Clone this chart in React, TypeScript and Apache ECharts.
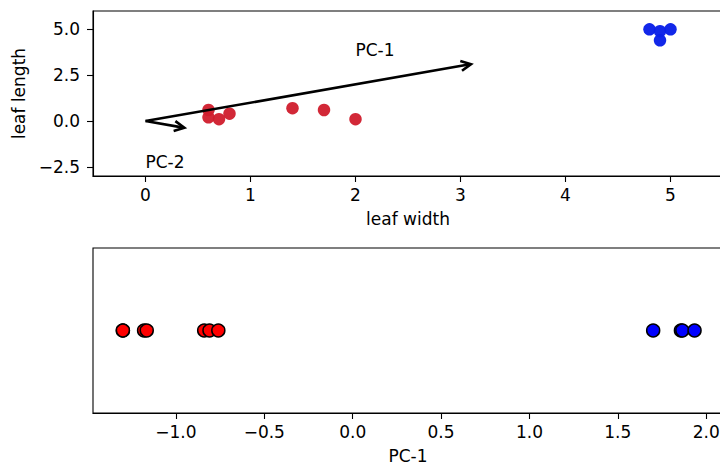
import React, { useEffect, useRef } from "react";
import * as echarts from "echarts";

// ---- data ----
const redWidth = [0.6, 0.6, 0.7, 0.8, 1.4, 1.7, 2.0];
const redLength = [0.6, 0.2, 0.1, 0.4, 0.7, 0.6, 0.1];
const blueWidth = [4.8, 4.9, 5.0, 4.9];
const blueLength = [5.0, 4.9, 5.0, 4.4];

const pc1Red = [-1.3, -1.3, -1.18, -1.165, -0.84, -0.81, -0.76];
const pc1Blue = [1.7, 1.857, 1.865, 1.934];

// arrows: [x0, y0, x1, y1]
const arrows = [
  [0, 0, 3.1, 3.1],
  [0, 0, 0.37, -0.37],
];
const arrowNames = ["PC-1", "PC-2"];
const arrowLabelPos = [
  [2.0, 3.87],
  [0.0, -2.22],
];

const topXTicks = [0, 1, 2, 3, 4, 5];
const topYTicks = [-2.5, 0, 2.5, 5];
const bottomXTicks = [-1.0, -0.5, 0.0, 0.5, 1.0, 1.5, 2.0];

const FONT = "DejaVu Sans";
const FS = 17;

const fmt = (v: number, d: number) => {
  const s = Math.abs(v).toFixed(d);
  return (v < 0 ? "\u2212" : "") + s;
};

export default function App() {
  const ref = useRef<HTMLDivElement>(null);
  useEffect(() => {
    if (!ref.current) return;
    const chart = echarts.init(ref.current, undefined, { renderer: "svg" });

    const axisCommon = {
      axisLine: { show: true, onZero: false, lineStyle: { color: "#000", width: 1.1 } },
      axisTick: { show: true, inside: false, length: 6, lineStyle: { color: "#000", width: 1.1 } },
      splitLine: { show: false },
      nameTextStyle: { color: "#000", fontFamily: FONT, fontSize: FS },
    };

    const option: any = {
      animation: false,
      backgroundColor: "#fff",
      grid: [
        { left: 93, top: 11, right: 0, height: 165, show: true, borderColor: "#000", borderWidth: 1.1, containLabel: false },
        { left: 93, top: 248, right: 0, height: 165, show: true, borderColor: "#000", borderWidth: 1.1, containLabel: false },
      ],
      xAxis: [
        {
          ...axisCommon,
          type: "value",
          gridIndex: 0,
          min: -0.5,
          max: 5.5,
          name: "leaf width",
          nameLocation: "middle",
          nameGap: 34,
          axisTick: { ...axisCommon.axisTick, customValues: topXTicks },
          axisLabel: {
            customValues: topXTicks,
            formatter: (v: number) => fmt(v, 0),
            color: "#000",
            fontFamily: FONT,
            fontSize: FS,
            margin: 10,
          },
        },
        {
          ...axisCommon,
          type: "value",
          gridIndex: 1,
          min: -1.469,
          max: 2.095,
          name: "PC-1",
          nameLocation: "middle",
          nameGap: 34,
          axisTick: { ...axisCommon.axisTick, customValues: bottomXTicks },
          axisLabel: {
            customValues: bottomXTicks,
            formatter: (v: number) => fmt(v, 1),
            color: "#000",
            fontFamily: FONT,
            fontSize: FS,
            margin: 10,
          },
        },
      ],
      yAxis: [
        {
          ...axisCommon,
          type: "value",
          gridIndex: 0,
          min: -3,
          max: 6,
          name: "leaf length",
          nameLocation: "middle",
          nameGap: 58,
          axisTick: { ...axisCommon.axisTick, customValues: topYTicks },
          axisLabel: {
            customValues: topYTicks,
            formatter: (v: number) => fmt(v, 1),
            color: "#000",
            fontFamily: FONT,
            fontSize: FS,
            margin: 13,
          },
        },
        {
          type: "value",
          gridIndex: 1,
          min: -1,
          max: 1,
          show: false,
          splitLine: { show: false },
        },
      ],
      series: [
        {
          type: "scatter",
          xAxisIndex: 0,
          yAxisIndex: 0,
          symbolSize: 12.5,
          itemStyle: { color: "#d01c2c", opacity: 0.95 },
          data: redWidth.map((w, i) => [w, redLength[i]]),
          z: 2,
        },
        {
          type: "scatter",
          xAxisIndex: 0,
          yAxisIndex: 0,
          symbolSize: 12.5,
          itemStyle: { color: "#0a20e8", opacity: 0.97 },
          data: blueWidth.map((w, i) => [w, blueLength[i]]),
          z: 2,
        },
        {
          type: "custom",
          xAxisIndex: 0,
          yAxisIndex: 0,
          z: 3,
          clip: false,
          data: arrows,
          encode: { x: [0, 2], y: [1, 3] },
          renderItem: (params: any, api: any) => {
            const p0 = api.coord([api.value(0), api.value(1)]);
            const p1 = api.coord([api.value(2), api.value(3)]);
            const dx = p1[0] - p0[0];
            const dy = p1[1] - p0[1];
            const len = Math.sqrt(dx * dx + dy * dy);
            const ux = dx / len;
            const uy = dy / len;
            const hl = 10;
            const hw = 5;
            const bx = p1[0] - ux * hl;
            const by = p1[1] - uy * hl;
            const a = [bx - uy * hw, by + ux * hw];
            const b = [bx + uy * hw, by - ux * hw];
            const lbl = arrowLabelPos[params.dataIndex];
            const lp = api.coord(lbl);
            return {
              type: "group",
              children: [
                {
                  type: "line",
                  shape: { x1: p0[0], y1: p0[1], x2: p1[0] - ux * 1, y2: p1[1] - uy * 1 },
                  style: { stroke: "#000", lineWidth: 2.6, lineCap: "butt" },
                },
                {
                  type: "polyline",
                  shape: { points: [a, p1, b] },
                  style: { stroke: "#000", fill: null, lineWidth: 2.6, lineJoin: "miter" },
                },
                {
                  type: "text",
                  x: lp[0],
                  y: lp[1],
                  style: {
                    text: arrowNames[params.dataIndex],
                    fill: "#000",
                    font: `${FS}px "${FONT}"`,
                    textAlign: "left",
                    textVerticalAlign: "middle",
                  },
                },
              ],
            };
          },
        },
        {
          type: "scatter",
          xAxisIndex: 1,
          yAxisIndex: 1,
          symbolSize: 13,
          itemStyle: { color: "#ff0000", borderColor: "#000", borderWidth: 1.5, opacity: 1 },
          data: pc1Red.map((v) => [v, 0]),
        },
        {
          type: "scatter",
          xAxisIndex: 1,
          yAxisIndex: 1,
          symbolSize: 13,
          itemStyle: { color: "#0000ff", borderColor: "#000", borderWidth: 1.5, opacity: 1 },
          data: pc1Blue.map((v) => [v, 0]),
        },
      ],
    };

    chart.setOption(option);
    return () => chart.dispose();
  }, []);

  return (
    <div style={{ position: "absolute", left: 0, top: 0, width: 720, height: 465, overflow: "hidden" }}>
      <div ref={ref} style={{ width: 723, height: 465 }} />
    </div>
  );
}
